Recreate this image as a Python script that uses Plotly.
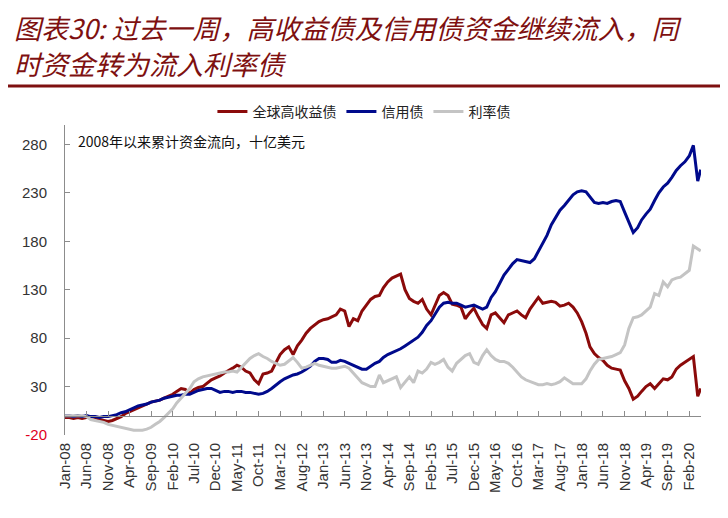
import pandas as pd
import plotly.graph_objects as go

# ---- data (monthly, plus one final point) ----
dates = list(pd.date_range("2008-01-01", periods=148, freq="MS").strftime("%Y-%m-%d")) + ["2020-04-22"]

high_yield = [
    -2, -2, -3, -2, -3, -2, -1, -2, -4, -5, -6, -5, -3, -1, 2, 4, 6, 8, 10, 12,
    14, 15, 16, 18, 20, 22, 25, 28, 27, 23, 27, 29, 30, 33, 37, 39, 41, 44, 46, 49,
    52, 50, 46, 44, 37, 33, 43, 44, 46, 55, 63, 68, 71, 63, 72, 78, 85, 90, 94, 97,
    99, 100, 102, 104, 110, 108, 92, 100, 98, 108, 114, 120, 123, 124, 132, 138, 142, 144, 146, 130,
    121, 118, 116, 120, 110, 104, 113, 124, 127, 124, 115, 114, 112, 100, 106, 111, 102, 94, 90, 104,
    106, 101, 96, 104, 106, 108, 104, 101, 110, 116, 122, 116, 117, 118, 117, 113, 114, 116, 112, 106,
    97, 85, 71, 64, 60, 57, 52, 49, 48, 47, 36, 28, 17, 20, 25, 30, 33, 28, 33, 38,
    37, 40, 48, 52, 55, 58, 61, 20, 28,
]

credit = [
    0, 0, -1, 0, -1, 0, -1, -1, -2, -1, -1, 0, 1, 3, 4, 6, 8, 10, 11, 12,
    14, 15, 16, 18, 19, 20, 21, 21, 22, 22, 24, 26, 27, 28, 28, 26, 24, 25, 25, 24,
    25, 25, 24, 24, 23, 22, 23, 25, 28, 32, 35, 38, 40, 42, 43, 45, 48, 51, 56, 59,
    59, 58, 55, 55, 57, 56, 54, 52, 50, 48, 48, 51, 54, 56, 60, 63, 65, 67, 69, 72,
    75, 78, 81, 86, 93, 98, 105, 112, 116, 117, 116, 116, 114, 112, 113, 114, 112, 110, 112, 122,
    128, 136, 145, 151, 157, 161, 160, 159, 158, 162, 170, 178, 186, 197, 205, 212, 217, 222, 228, 231,
    232, 231, 226, 220, 219, 220, 219, 221, 222, 221, 210, 200, 189, 194, 202, 208, 213, 222, 230, 236,
    240, 246, 253, 258, 262, 268, 279, 242, 254,
]

rates = [
    0, 0, 0, 0, 0, -1, -4, -5, -6, -7, -9, -10, -11, -12, -13, -14, -15, -15, -15, -14,
    -12, -9, -6, -2, 2, 7, 13, 18, 23, 28, 35, 38, 40, 41, 42, 43, 44, 45, 45, 46,
    45, 50, 55, 59, 62, 64, 61, 59, 56, 54, 52, 53, 56, 60, 55, 49, 50, 52, 54, 52,
    51, 50, 49, 49, 50, 51, 49, 44, 38, 34, 32, 30, 30, 42, 34, 36, 38, 40, 29, 35,
    40, 34, 46, 44, 48, 55, 53, 55, 58, 50, 46, 54, 58, 62, 64, 55, 53, 62, 68, 62,
    58, 56, 56, 54, 50, 45, 40, 37, 35, 33, 32, 32, 33, 32, 33, 35, 39, 36, 33, 33,
    33, 38, 46, 53, 58, 59, 60, 61, 63, 65, 73, 90, 101, 102, 104, 108, 112, 126, 124, 138,
    133, 140, 142, 143, 147, 150, 175, 172, 170,
]

series_names = ["全球高收益债", "信用债", "利率债"]
series_colors = ["#8B0A0A", "#000A8C", "#C4C4C4"]
y_ticks = [-20, 30, 80, 130, 180, 230, 280]
y_tick_text = ['<span style="color:#E0001B">-20</span>'] + [str(v) for v in y_ticks[1:]]

title_line1 = "图表30: 过去一周，高收益债及信用债资金继续流入，同"
title_line2 = "时资金转为流入利率债"
note_text = "2008年以来累计资金流向，十亿美元"

# ---- figure ----
fig = go.Figure()
for name, vals, col in zip(series_names, [high_yield, credit, rates], series_colors):
    fig.add_trace(go.Scatter(x=dates, y=vals, name=name, mode="lines",
                             line=dict(color=col, width=3), xaxis="x", yaxis="y"))

# invisible helper trace so the zero-line axis (x2) is drawn
fig.add_trace(go.Scatter(x=[dates[0]], y=[0], mode="lines", showlegend=False,
                         hoverinfo="skip", line=dict(width=0), xaxis="x2", yaxis="y"))

y_lo, y_hi = -20, 300
x_range = ["2008-01-01", "2020-04-24"]

# the page body has an 8px margin, so the figure is 8px smaller and margins are shifted
fig.update_layout(
    width=720, height=510,
    margin=dict(l=57, r=27, t=117, b=83),
    paper_bgcolor="white", plot_bgcolor="white",
    font=dict(family="Liberation Sans, Arial", color="#333333"),
    showlegend=True,
    legend=dict(orientation="h", x=0.47, xanchor="center", y=1.042, yanchor="middle",
                font=dict(size=14, family="Noto Sans CJK SC", color="#222"),
                itemwidth=30, bgcolor="rgba(0,0,0,0)"),
    xaxis=dict(type="date", range=x_range, tick0="2008-01-01", dtick="M5",
               tickformat="%b-%y", tickangle=-90, showgrid=False, showline=False,
               ticks="", zeroline=False, tickfont=dict(size=15, color="#333"),
               ticklabelstandoff=4, automargin=False),
    xaxis2=dict(type="date", matches="x", overlaying="x", anchor="free",
                position=(0 - y_lo) / (y_hi - y_lo), tick0="2008-01-01", dtick="M5",
                showticklabels=False, showgrid=False, showline=True,
                linecolor="#8C8C8C", linewidth=1, ticks="inside", ticklen=5,
                tickcolor="#8C8C8C", zeroline=False),
    yaxis=dict(range=[y_lo, y_hi], tickvals=y_ticks, ticktext=y_tick_text,
               showgrid=False, zeroline=False, showline=True, linecolor="#8C8C8C",
               linewidth=1, ticks="inside", ticklen=5, tickcolor="#8C8C8C",
               tickfont=dict(size=15, color="#333"), ticklabelstandoff=14,
               automargin=False),
)

# helpers mapping reference-pixel positions to paper coordinates of the plot area
def px_x(px):
    return (px - 65) / 636.0

def px_y(py):
    return (435 - py) / 310.0

title_font = dict(family="Noto Sans CJK SC", size=27, color="#7E1010", style="italic")
fig.add_annotation(text=title_line1, xref="paper", yref="paper", x=px_x(13), y=px_y(28),
                   xanchor="left", yanchor="middle", showarrow=False, font=title_font,
                   borderpad=0)
fig.add_annotation(text=title_line2, xref="paper", yref="paper", x=px_x(13), y=px_y(63),
                   xanchor="left", yanchor="middle", showarrow=False, font=title_font,
                   borderpad=0)
fig.add_shape(type="line", xref="paper", yref="paper", x0=px_x(8), x1=px_x(722),
              y0=px_y(86), y1=px_y(86), line=dict(color="#7E1010", width=3))
fig.add_annotation(text=note_text, xref="paper", yref="paper", x=px_x(76), y=px_y(141),
                   xanchor="left", yanchor="middle", showarrow=False,
                   font=dict(family="Noto Sans CJK SC", size=14, color="#111"))

fig.write_html("out.html")
